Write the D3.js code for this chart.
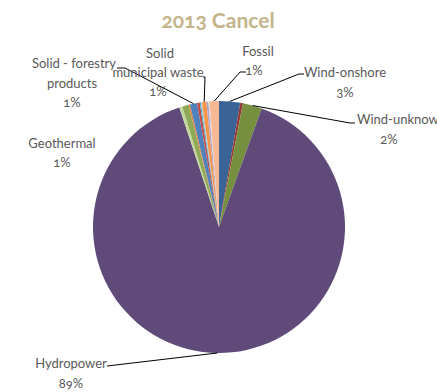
<!DOCTYPE html>
<html>
<head>
<meta charset="utf-8">
<script src="https://cdn.jsdelivr.net/npm/d3@7"></script>
<style>
  html, body { margin: 0; padding: 0; background: #fff; }
  svg { display: block; }
  text { font-family: Lato, "Noto Sans", sans-serif; font-variant-numeric: oldstyle-nums; font-feature-settings: "onum" 1; }
</style>
</head>
<body>
<script>
// Generation mix, listed clockwise from 12 o'clock
const categories = [
  "Wind-onshore", "Wind-other", "Wind-unknown", "Hydropower",
  "Landfill gas", "Geothermal", "Biogas", "Solid - forestry products",
  "Solar PV", "Solar thermal", "Tidal", "Solid municipal waste",
  "Wave", "Other", "Fossil"
];
const shares = [
  2.7, 0.35, 2.45, 89.4,
  0.4, 0.8, 0.2, 0.9,
  0.35, 0.15, 0.15, 0.55,
  0.25, 0.15, 1.2
];
const colors = [
  "#3A6496", "#953735", "#76903F", "#5F4A7A",
  "#C3D69B", "#8EAA58", "#E3813A", "#4F81BD",
  "#C0504D", "#4BACC6", "#B9C7DB", "#F79646",
  "#B3A2C7", "#D6D6D6", "#F9B894"
];
const labelled = ["Hydropower", "Geothermal", "Solid - forestry products",
  "Solid municipal waste", "Fossil", "Wind-onshore", "Wind-unknown"];
const title = "2013 Cancel";

const W = 437, H = 392;
const cx = 219, cy = 227, R = 126;

const svg = d3.select("body").append("svg").attr("width", W).attr("height", H);

svg.append("text")
  .attr("x", 218).attr("y", 28)
  .attr("text-anchor", "middle")
  .attr("font-size", 21).attr("font-weight", 700)
  .attr("fill", "#C4B48A")
  .text(title);

const pie = d3.pie().sort(null).value(d => d.v).startAngle(0).endAngle(2 * Math.PI);
const data = categories.map((c, i) => ({ c, v: shares[i], col: colors[i] }));
const arcs = pie(data);
const total = d3.sum(shares);
const arc = d3.arc().innerRadius(0).outerRadius(R);

const g = svg.append("g").attr("transform", `translate(${cx},${cy})`);
g.selectAll("path").data(arcs).join("path")
  .attr("d", arc)
  .attr("fill", d => d.data.col);

// Label placement: text lines and leader elbow for each labelled slice
const layout = {
  "Hydropower":   { lines: [["Hydropower", 71, 368], ["%", 71, 388]], leader: [[107, 366]] },
  "Geothermal":   { lines: [["Geothermal", 62, 148], ["%", 62, 167]], leader: null },
  "Solid - forestry products": { lines: [["Solid - forestry", 74, 68], ["products", 72, 88], ["%", 72, 107]], leader: [[117, 68], [125, 68]] },
  "Solid municipal waste": { lines: [["Solid", 160, 58], ["municipal waste", 158, 77], ["%", 158, 96]], leader: [[203, 77], [205, 77]] },
  "Fossil":       { lines: [["Fossil", 258, 56], ["%", 254, 75]], leader: [[246, 72], [240, 72]] },
  "Wind-onshore": { lines: [["Wind-onshore", 345, 77], ["%", 345, 97]], leader: [[304, 74], [299, 74]] },
  "Wind-unknown": { lines: [["Wind-unknown", 357, 124, "start"], ["%", 389, 144]], leader: [[355, 123], [350, 123]] }
};

const pct = v => Math.round(v / total * 100) + "%";
const lab = svg.append("g");

arcs.filter(a => labelled.includes(a.data.c)).forEach(a => {
  const L = layout[a.data.c];
  const mid = (a.startAngle + a.endAngle) / 2;
  const anchor = [cx + R * Math.sin(mid), cy - R * Math.cos(mid)];
  if (L.leader) {
    lab.append("path")
      .attr("d", d3.line()([...L.leader, anchor]))
      .attr("fill", "none").attr("stroke", "#000").attr("stroke-width", 1);
  }
  L.lines.forEach(([t, x, y, anc]) => {
    lab.append("text")
      .attr("x", x).attr("y", y)
      .attr("text-anchor", anc || "middle")
      .attr("font-size", 13)
      .attr("fill", "#595959")
      .text(t === "%" ? pct(a.data.v) : t);
  });
});
</script>
</body>
</html>
